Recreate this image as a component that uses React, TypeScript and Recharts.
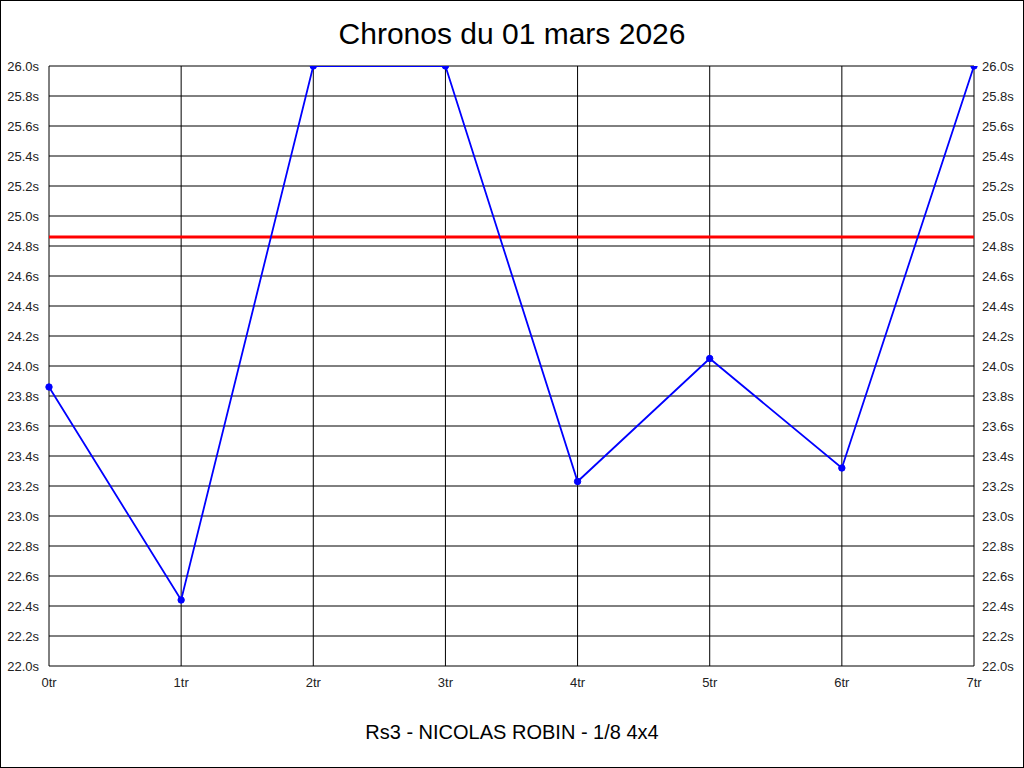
import React from "react";
import { LineChart, Line, XAxis, YAxis, CartesianGrid, ReferenceLine } from "recharts";

// lap labels and times (seconds)
const LAPS = ["0tr", "1tr", "2tr", "3tr", "4tr", "5tr", "6tr", "7tr"];
const TIMES = [23.86, 22.44, 26.0, 26.0, 23.23, 24.05, 23.32, 26.0];
const REFERENCE_TIME = 24.86;
const Y_TICKS = [22.0, 22.2, 22.4, 22.6, 22.8, 23.0, 23.2, 23.4, 23.6, 23.8, 24.0, 24.2, 24.4, 24.6, 24.8, 25.0, 25.2, 25.4, 25.6, 25.8, 26.0];

const TITLE = "Chronos du 01 mars 2026";
const SUBTITLE = "Rs3 - NICOLAS ROBIN - 1/8 4x4";

const FONT = "Arial, 'Liberation Sans', sans-serif";

export default function App() {
    const data = LAPS.map((lap, i) => ({ lap, time: TIMES[i] }));
    const tick = { fill: "#222", fontSize: 13, fontFamily: FONT };
    const fmt = (v: number) => `${v.toFixed(1)}s`;

    return (
        <div
            style={{
                position: "fixed",
                left: 0,
                top: 0,
                width: 1024,
                height: 768,
                boxSizing: "border-box",
                border: "1px solid #000",
                background: "#fff",
                fontFamily: FONT,
            }}
        >
            <div style={{ position: "absolute", left: 0, right: 0, top: 16, textAlign: "center", fontSize: 30, color: "#000" }}>
                {TITLE}
            </div>
            <LineChart width={1022} height={766} data={data} margin={{ top: 65, right: 0, bottom: 71, left: 0 }}>
                <CartesianGrid yAxisId="left" stroke="#000" strokeWidth={1} />
                <XAxis
                    dataKey="lap"
                    axisLine={false}
                    tickLine={false}
                    tick={tick}
                    tickMargin={6}
                    height={30}
                    interval={0}
                />
                <YAxis
                    yAxisId="left"
                    domain={[22, 26]}
                    ticks={Y_TICKS}
                    tickFormatter={fmt}
                    axisLine={false}
                    tickLine={false}
                    tick={tick}
                    tickMargin={4}
                    width={48}
                    allowDataOverflow
                />
                <YAxis
                    yAxisId="right"
                    orientation="right"
                    domain={[22, 26]}
                    ticks={Y_TICKS}
                    tickFormatter={fmt}
                    axisLine={false}
                    tickLine={false}
                    tick={tick}
                    tickMargin={2}
                    width={49}
                    allowDataOverflow
                />
                <ReferenceLine yAxisId="left" y={REFERENCE_TIME} stroke="#ff0000" strokeWidth={3} />
                <Line
                    yAxisId="left"
                    type="linear"
                    dataKey="time"
                    stroke="#0000ff"
                    strokeWidth={1.8}
                    dot={{ r: 3.2, fill: "#0000ff", stroke: "#0000ff", strokeWidth: 1 }}
                    activeDot={false}
                    isAnimationActive={false}
                />
            </LineChart>
            <div style={{ position: "absolute", left: 0, right: 0, top: 720, textAlign: "center", fontSize: 20, color: "#000" }}>
                {SUBTITLE}
            </div>
        </div>
    );
}
